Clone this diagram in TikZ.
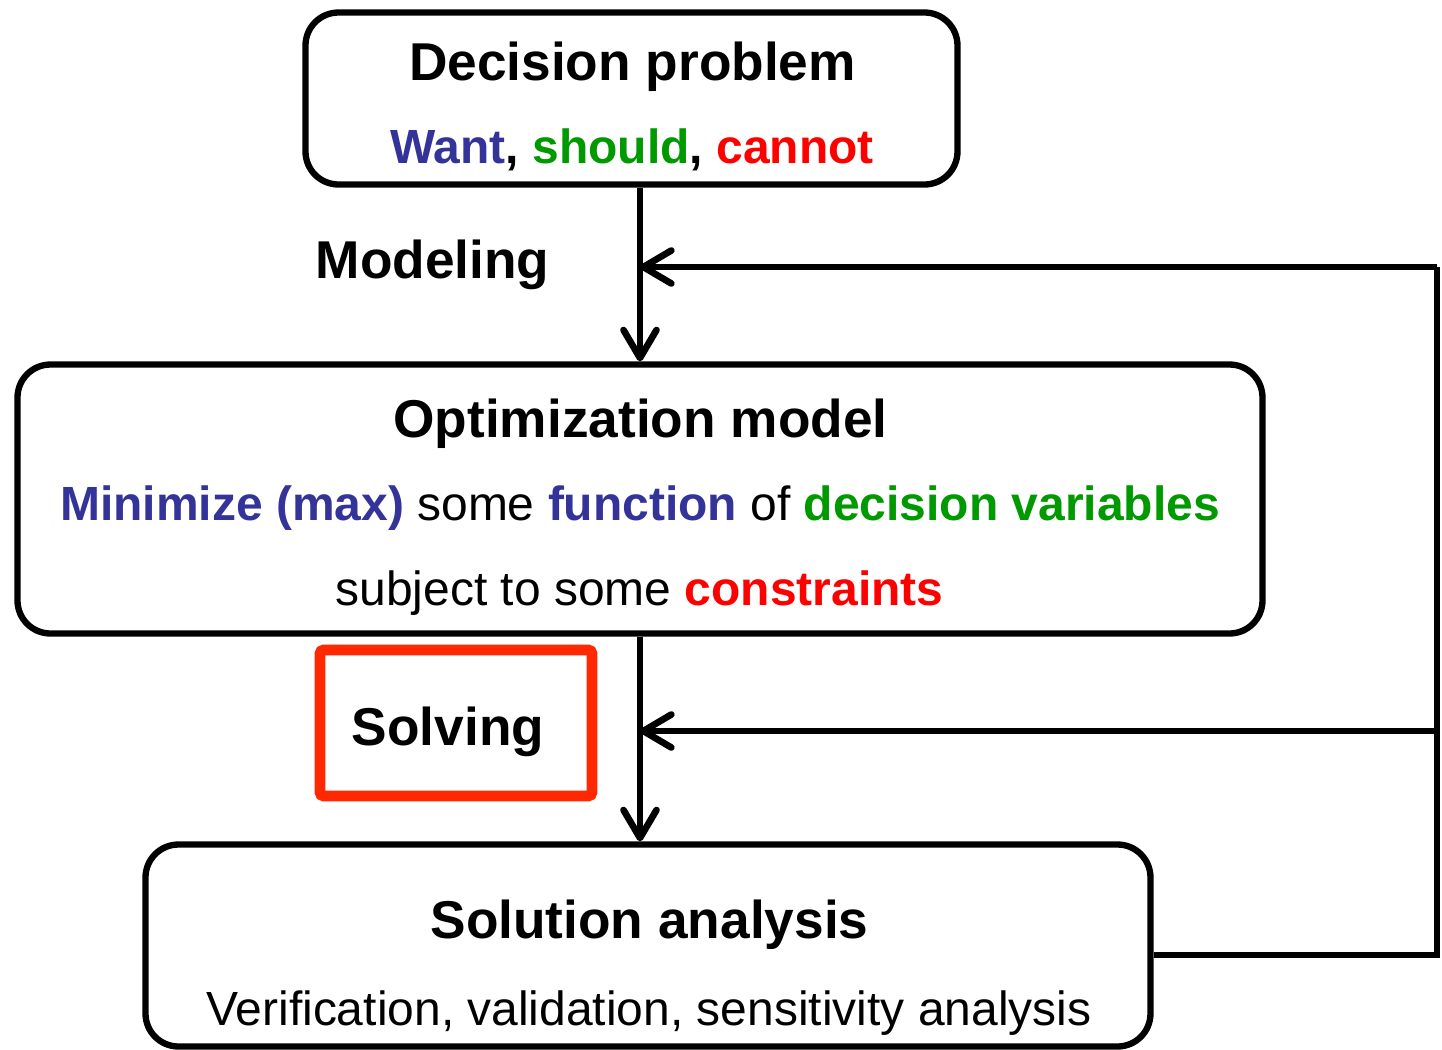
\documentclass[tikz,border=0pt]{standalone}
\usepackage{fontspec}
\setmainfont{Liberation Sans}
\usetikzlibrary{arrows.meta}
\definecolor{wantblue}{RGB}{51,51,153}
\definecolor{shouldgreen}{RGB}{0,153,0}
\definecolor{cannotred}{RGB}{255,0,0}
\definecolor{solvred}{RGB}{255,40,0}
\tikzset{
  box/.style={draw,line width=1.8pt,rounded corners=0.33cm,inner sep=0pt},
  head/.style={anchor=base,inner sep=0pt,font=\fontsize{15.15}{18}\selectfont\bfseries},
  txt/.style={anchor=base,inner sep=0pt,font=\fontsize{13.65}{16}\selectfont},
  arr/.style={line width=1.9pt,-{Straight Barb[length=2.8mm,width=3.3mm,round]}},
  feed/.style={line width=1.9pt}
}
\begin{document}
\begin{tikzpicture}
\useasboundingbox (0,0) rectangle (14.42,-10.50);

% boxes
\node[box,minimum width=6.52cm,minimum height=1.72cm] (dec) at (6.315,-0.985) {};
\node[box,minimum width=12.45cm,minimum height=2.69cm] (opt) at (6.40,-4.99) {};
\node[box,minimum width=10.05cm,minimum height=2.02cm] (sol) at (6.48,-9.455) {};
\node[draw=solvred,line width=3pt,rounded corners=1pt,minimum width=2.72cm,minimum height=1.46cm] (solvbox) at (4.56,-7.23) {};

% texts
\node[head] (dectitle) at (6.325,-0.80) {Decision problem};
\node[txt] (decwords) at (6.32,-1.63) {\textbf{\textcolor{wantblue}{Want}, \textcolor{shouldgreen}{should}, \textcolor{cannotred}{cannot}}};
\node[head] (modeling) at (4.325,-2.78) {Modeling};
\node[head] (opttitle) at (6.405,-4.37) {Optimization model};
\node[txt] (optline) at (6.40,-5.20) {\textcolor{wantblue}{\textbf{Minimize (max)}} some \textcolor{wantblue}{\textbf{function}} of \textcolor{shouldgreen}{\textbf{decision variables}}};
\node[txt] (stline) at (6.395,-6.05) {subject to some \textcolor{cannotred}{\textbf{constraints}}};
\node[head] (solving) at (4.48,-7.45) {Solving};
\node[head] (soltitle) at (6.495,-9.38) {Solution analysis};
\node[txt] (solline) at (6.49,-10.25) {Verification, validation, sensitivity analysis};

% feedback corners
\coordinate (fbout) at (14.37,-9.55);
\coordinate (fbtop) at (14.37,-2.67);
\coordinate (fbmid) at (14.37,-7.31);

% arrows
\draw[arr] (dec.south -| opt.north) -- (opt.north);
\draw[arr] (opt.south) -- (opt.south |- sol.north);
\draw[feed] (sol.east |- fbout) -- (fbout) -- (fbtop);
\draw[arr] (fbtop) -- (fbtop -| opt.north);
\draw[arr] (fbmid) -- (fbmid -| opt.north);
\end{tikzpicture}
\end{document}
